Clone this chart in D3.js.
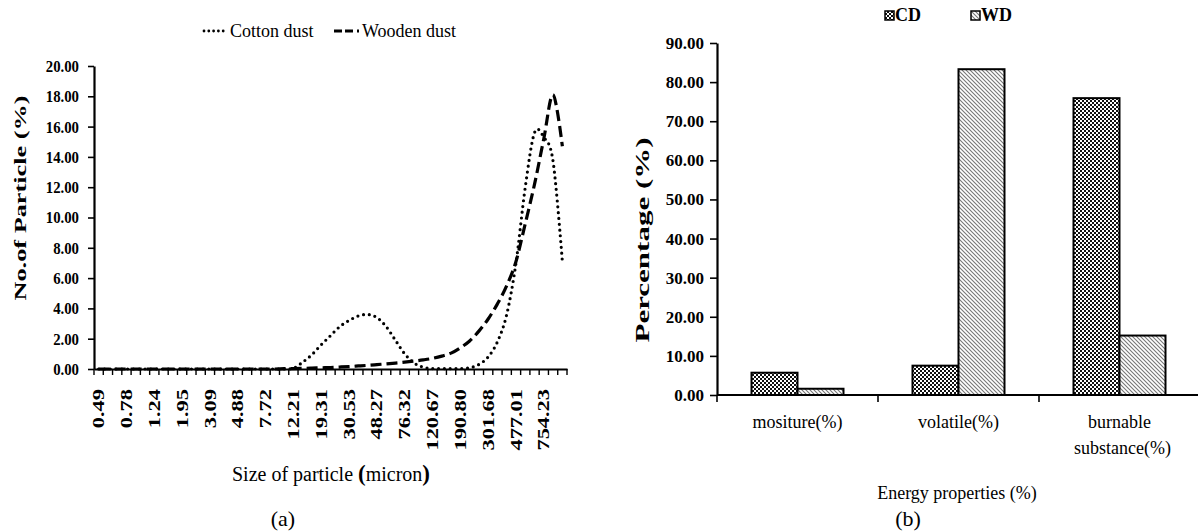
<!DOCTYPE html>
<html>
<head>
<meta charset="utf-8">
<script src="https://cdn.jsdelivr.net/npm/d3@7"></script>
<style>
  body { margin: 0; background: #fff; }
</style>
</head>
<body>
<div id="chart"></div>
<script>
// ---- data (a): particle size distribution ----
var sizes = [0.49, 0.57, 0.67, 0.78, 0.91, 1.06, 1.24, 1.44, 1.68, 1.95, 2.28, 2.65,
  3.09, 3.60, 4.19, 4.88, 5.69, 6.63, 7.72, 9.00, 10.48, 12.21, 14.22, 16.57, 19.31,
  22.49, 26.20, 30.53, 35.56, 41.43, 48.27, 56.23, 65.51, 76.32, 88.91, 103.58, 120.67,
  140.58, 163.77, 190.80, 222.28, 258.95, 301.68, 351.46, 409.45, 477.01, 555.71,
  647.41, 754.23, 878.67, 1023.66];

var cotton = [0, 0, 0, 0, 0, 0, 0, 0, 0, 0, 0, 0, 0, 0, 0, 0, 0, 0, 0, 0, 0,
  0.05, 0.45, 0.95, 1.6, 2.2, 2.8, 3.2, 3.5, 3.6, 3.4, 2.8, 1.9, 1.0, 0.4, 0.12,
  0.03, 0.02, 0.02, 0.03, 0.08, 0.3, 0.8, 1.8, 3.6, 7.0, 12.0, 15.6, 15.3, 13.7, 7.1];

var wooden = [0, 0, 0, 0, 0, 0, 0, 0, 0, 0, 0, 0, 0, 0, 0, 0, 0, 0, 0, 0,
  0.02, 0.03, 0.04, 0.06, 0.08, 0.1, 0.13, 0.16, 0.2, 0.24, 0.29, 0.34, 0.39, 0.45,
  0.52, 0.6, 0.7, 0.85, 1.05, 1.4, 1.85, 2.5, 3.3, 4.3, 5.5, 7.1, 9.6, 12.2, 15.2, 18.1, 14.7];

var yTicksA = [0, 2, 4, 6, 8, 10, 12, 14, 16, 18, 20];

// ---- data (b): energy properties ----
var properties = ["mositure(%)", "volatile(%)", "burnable substance(%)"];
var propLines = [["mositure(%)"], ["volatile(%)"], ["burnable", "substance(%)"]];
var series = ["CD", "WD"];
var cdValues = [5.7, 7.5, 75.9];
var wdValues = [1.6, 83.3, 15.2];
var yTicksB = [0, 10, 20, 30, 40, 50, 60, 70, 80, 90];

var serif = "Liberation Serif";

var svg = d3.select("#chart").append("svg")
  .attr("width", 1198)
  .attr("height", 532)
  .attr("font-family", serif);

// patterns for the bars
var defs = svg.append("defs");
var chk = defs.append("pattern")
  .attr("id", "checker")
  .attr("patternUnits", "userSpaceOnUse")
  .attr("width", 4).attr("height", 4);
chk.append("rect").attr("width", 4).attr("height", 4).attr("fill", "#111");
chk.append("rect").attr("width", 2).attr("height", 2).attr("fill", "#fff");
chk.append("rect").attr("x", 2).attr("y", 2).attr("width", 2).attr("height", 2).attr("fill", "#fff");

var hatch = defs.append("pattern")
  .attr("id", "hatch")
  .attr("patternUnits", "userSpaceOnUse")
  .attr("width", 4).attr("height", 4);
hatch.append("rect").attr("width", 4).attr("height", 4).attr("fill", "#fff");
hatch.append("path").attr("d", "M-1,-1 L5,5 M-1,3 L1,5 M3,-1 L5,1")
  .attr("stroke", "#777").attr("stroke-width", 1.1);

// =========== chart (a) ===========
var ga = svg.append("g");

var xa = d3.scaleBand()
  .domain(d3.range(sizes.length))
  .range([94, 567]);

var ya = d3.scaleLinear()
  .domain([0, 20])
  .range([369, 66]);

// y axis
var leftAxisA = d3.axisLeft(ya)
  .tickValues(yTicksA)
  .tickSize(6)
  .tickSizeOuter(0)
  .tickFormat(d3.format(".2f"));

var gyA = ga.append("g")
  .attr("transform", "translate(94,0)")
  .call(leftAxisA);
gyA.select(".domain").attr("stroke-width", 2.2);
gyA.selectAll(".tick line").attr("stroke-width", 1.6);
gyA.selectAll(".tick text")
  .attr("font-family", serif)
  .attr("font-size", 17)
  .attr("font-weight", "bold")
  .attr("fill", "#000")
  .attr("x", 0)
  .attr("text-anchor", "end")
  .attr("transform", "translate(-15,0) scale(0.87,1)");

// x axis: labels every 3rd category, ticks between categories
var labelIdx = d3.range(0, sizes.length, 3).filter(function (i) { return i <= 48; });
var bottomAxisA = d3.axisBottom(xa)
  .tickValues(labelIdx)
  .tickSize(0)
  .tickFormat(function (i) { return sizes[i].toFixed(2); });

var gxA = ga.append("g")
  .attr("transform", "translate(0,369)")
  .call(bottomAxisA);
gxA.select(".domain").attr("stroke-width", 2.2);
gxA.selectAll(".tick text")
  .attr("font-family", serif)
  .attr("font-size", 16)
  .attr("font-weight", "bold")
  .attr("fill", "#000")
  .attr("y", 0)
  .attr("dy", "0.35em")
  .attr("text-anchor", "end")
  .attr("transform", "translate(0,20) rotate(-90) scale(1.4,1)");

var boundaries = d3.range(sizes.length + 1);
ga.append("g").selectAll("line")
  .data(boundaries)
  .enter().append("line")
  .attr("x1", function (i) { return i < sizes.length ? xa(i) : xa.range()[1]; })
  .attr("x2", function (i) { return i < sizes.length ? xa(i) : xa.range()[1]; })
  .attr("y1", 369)
  .attr("y2", 375)
  .attr("stroke", "#000")
  .attr("stroke-width", 1.4);

// lines
var lineA = function (vals) {
  return d3.line()
    .x(function (d, i) { return xa(i) + xa.bandwidth() / 2; })
    .y(function (d) { return ya(d); })
    .curve(d3.curveCatmullRom.alpha(0))(vals);
};

ga.append("path")
  .attr("d", lineA(wooden))
  .attr("fill", "none")
  .attr("stroke", "#000")
  .attr("stroke-width", 3.2)
  .attr("stroke-dasharray", "11,5");

ga.append("path")
  .attr("d", lineA(cotton))
  .attr("fill", "none")
  .attr("stroke", "#000")
  .attr("stroke-width", 3.2)
  .attr("stroke-linecap", "round")
  .attr("stroke-dasharray", "0,5.8");

// legend (a)
ga.append("line")
  .attr("x1", 204).attr("x2", 228).attr("y1", 31).attr("y2", 31)
  .attr("stroke", "#000").attr("stroke-width", 2.8)
  .attr("stroke-linecap", "round").attr("stroke-dasharray", "0,4.8");
ga.append("text")
  .attr("x", 230).attr("y", 37)
  .attr("font-size", 18)
  .text("Cotton dust");
ga.append("line")
  .attr("x1", 334).attr("x2", 361).attr("y1", 31).attr("y2", 31)
  .attr("stroke", "#000").attr("stroke-width", 3)
  .attr("stroke-dasharray", "8,3,8,4,2");
ga.append("text")
  .attr("x", 362).attr("y", 37)
  .attr("font-size", 18)
  .text("Wooden dust");

// axis titles (a)
ga.append("text")
  .attr("transform", "translate(20,198) rotate(-90)")
  .attr("text-anchor", "middle")
  .attr("dy", "0.35em")
  .attr("font-size", 17)
  .attr("font-weight", "bold")
  .attr("textLength", 205)
  .attr("lengthAdjust", "spacingAndGlyphs")
  .text("No.of Particle (%)");

var xt = ga.append("text")
  .attr("x", 331).attr("y", 481)
  .attr("text-anchor", "middle")
  .attr("font-size", 20);
xt.append("tspan").text("Size of particle ");
xt.append("tspan").attr("font-weight", "bold").attr("font-size", 23).text("(");
xt.append("tspan").text("micron");
xt.append("tspan").attr("font-weight", "bold").attr("font-size", 23).text(")");

ga.append("text")
  .attr("x", 283).attr("y", 526)
  .attr("text-anchor", "middle")
  .attr("font-size", 22)
  .text("(a)");

// =========== chart (b) ===========
var gb = svg.append("g");

var xb = d3.scaleBand()
  .domain(properties)
  .range([717, 1200]);

var xSub = d3.scaleBand()
  .domain(series)
  .range([0, xb.bandwidth()])
  .paddingInner(0)
  .paddingOuter(0.75);

var yb = d3.scaleLinear()
  .domain([0, 90])
  .range([395, 43]);

var leftAxisB = d3.axisLeft(yb)
  .tickValues(yTicksB)
  .tickSize(7)
  .tickSizeOuter(0)
  .tickFormat(d3.format(".2f"));

var gyB = gb.append("g")
  .attr("transform", "translate(717,0)")
  .call(leftAxisB);
gyB.select(".domain").attr("stroke-width", 2.2);
gyB.selectAll(".tick line").attr("stroke-width", 1.6);
gyB.selectAll(".tick text")
  .attr("font-family", serif)
  .attr("font-size", 17)
  .attr("font-weight", "bold")
  .attr("fill", "#000")
  .attr("x", -13);

// bars
var barData = [];
properties.forEach(function (p, i) {
  barData.push({ cat: p, s: "CD", v: cdValues[i] });
  barData.push({ cat: p, s: "WD", v: wdValues[i] });
});

gb.append("g").selectAll("rect")
  .data(barData)
  .enter().append("rect")
  .attr("x", function (d) { return xb(d.cat) + xSub(d.s); })
  .attr("y", function (d) { return yb(d.v); })
  .attr("width", xSub.bandwidth())
  .attr("height", function (d) { return yb(0) - yb(d.v); })
  .attr("fill", function (d) { return d.s === "CD" ? "url(#checker)" : "url(#hatch)"; })
  .attr("stroke", "#000")
  .attr("stroke-width", 2);

// x axis (b)
gb.append("line")
  .attr("x1", 717).attr("x2", 1200).attr("y1", 395).attr("y2", 395)
  .attr("stroke", "#000").attr("stroke-width", 2.2);
gb.append("g").selectAll("line")
  .data(properties)
  .enter().append("line")
  .attr("x1", function (d) { return xb(d); })
  .attr("x2", function (d) { return xb(d); })
  .attr("y1", 395).attr("y2", 402)
  .attr("stroke", "#000").attr("stroke-width", 1.6);

var catText = gb.append("g").selectAll("text")
  .data(properties)
  .enter().append("text")
  .attr("text-anchor", "middle")
  .attr("font-size", 18)
  .attr("y", 428);
catText.each(function (d, i) {
  var t = d3.select(this);
  propLines[i].forEach(function (line, k) {
    t.append("tspan")
      .attr("x", xb(d) + xb.bandwidth() / 2 + (k === 1 ? 3 : 0))
      .attr("dy", k === 0 ? 0 : 26)
      .text(line);
  });
});

gb.append("text")
  .attr("transform", "translate(643,240) rotate(-90)")
  .attr("text-anchor", "middle")
  .attr("dy", "0.35em")
  .attr("font-size", 18)
  .attr("font-weight", "bold")
  .attr("textLength", 205)
  .attr("lengthAdjust", "spacingAndGlyphs")
  .text("Percentage (%)");

gb.append("text")
  .attr("x", 957).attr("y", 499)
  .attr("text-anchor", "middle")
  .attr("font-size", 18)
  .text("Energy properties (%)");

gb.append("text")
  .attr("x", 908).attr("y", 526)
  .attr("text-anchor", "middle")
  .attr("font-size", 22)
  .text("(b)");

// legend (b)
var legB = gb.append("g").selectAll("g")
  .data(series)
  .enter().append("g")
  .attr("transform", function (d, i) { return "translate(" + (885 + i * 86) + ",11)"; });
legB.append("rect")
  .attr("width", 9).attr("height", 9)
  .attr("fill", function (d) { return d === "CD" ? "url(#checker)" : "url(#hatch)"; })
  .attr("stroke", "#000").attr("stroke-width", 1.5);
legB.append("text")
  .attr("x", 10).attr("y", 10)
  .attr("font-size", 18)
  .attr("font-weight", "bold")
  .text(function (d) { return d; });
</script>
</body>
</html>
